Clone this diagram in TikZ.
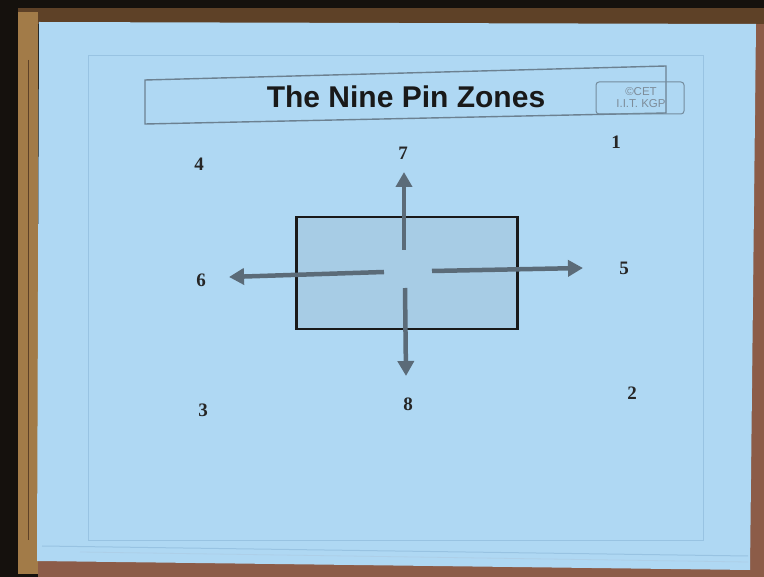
\documentclass[tikz,border=0pt]{standalone}
\usepackage{fontspec}
\setmainfont{Liberation Serif}
\newfontfamily\titlefont{Liberation Sans}
\usetikzlibrary{arrows.meta}
\definecolor{paper}{HTML}{AFD8F3}
\definecolor{boxfill}{HTML}{A7CCE5}
\definecolor{arrowgray}{HTML}{5B6B78}
\definecolor{faint}{HTML}{98C3E2}
\definecolor{woodlight}{HTML}{A27B48}
\definecolor{woodtop}{HTML}{5E4127}
\definecolor{woodred}{HTML}{8C5C48}
\definecolor{darkbg}{HTML}{15110D}
\definecolor{cetgray}{HTML}{7D8C99}
\tikzset{
  num/.style={font=\fontsize{19}{19}\selectfont\bfseries, text=black!85, inner sep=0pt},
  pinarrow/.style={draw=arrowgray, line width=4.5pt, -{Triangle[width=16pt,length=15pt]}},
}
\begin{document}
\begin{tikzpicture}[x=1pt,y=-1pt]
\useasboundingbox (0,0) rectangle (764,577);
% surroundings
\fill[darkbg] (0,0) rectangle (764,577);
\fill[woodtop] (18,8) rectangle (764,24);
\fill[woodred] (38,548) rectangle (764,577);
\fill[woodred] (750,24) rectangle (764,577);
\fill[woodlight] (18,12) rectangle (38,574);
\draw[woodtop, line width=1pt] (28,60) -- (28,540);
% paper
\fill[paper] (39,22) -- (756,24) -- (750,570) -- (37,561) -- cycle;
\draw[faint, line width=1pt] (42,546) -- (748,556);
\draw[faint!80!white, line width=0.8pt] (80,552) -- (748,562);
% faint inner frame
\draw[faint, line width=0.6pt] (88,55) rectangle (703,540);
% title box
\draw[arrowgray!80!paper, line width=1.4pt] (145,80) -- (666,66) -- (666,113) -- (145,124) -- cycle;
\node[font=\titlefont\fontsize{30}{30}\selectfont\bfseries, text=black!90] (title) at (406,97) {The Nine Pin Zones};
\draw[arrowgray!70!paper, line width=1pt, rounded corners=3pt] (596,82) rectangle (684,114);
\node[font=\titlefont\fontsize{11.5}{12}\selectfont, text=cetgray, align=center, inner sep=0pt] (cet) at (641,98) {\textcopyright CET\\I.I.T. KGP};
% central box
\node[draw=black!90, line width=2.4pt, fill=boxfill, minimum width=221pt, minimum height=112pt, inner sep=0pt] (box) at (407,273) {};
% arrows
\coordinate (upS) at (404,250);
\coordinate (upT) at (404,172);
\coordinate (dnS) at (405,288);
\coordinate (dnT) at (406,376);
\coordinate (lfS) at (384,272);
\coordinate (lfT) at (229,277);
\coordinate (rtS) at (432,271);
\coordinate (rtT) at (583,268);
\draw[pinarrow] (upS) -- (upT);
\draw[pinarrow] (dnS) -- (dnT);
\draw[pinarrow] (lfS) -- (lfT);
\draw[pinarrow] (rtS) -- (rtT);
% zone numbers
\node[num] (n1) at (616,142) {1};
\node[num] (n2) at (632,393) {2};
\node[num] (n3) at (203,410) {3};
\node[num] (n4) at (199,164) {4};
\node[num] (n5) at (624,268) {5};
\node[num] (n6) at (201,280) {6};
\node[num] (n7) at (403,153) {7};
\node[num] (n8) at (408,404) {8};
\end{tikzpicture}
\end{document}
